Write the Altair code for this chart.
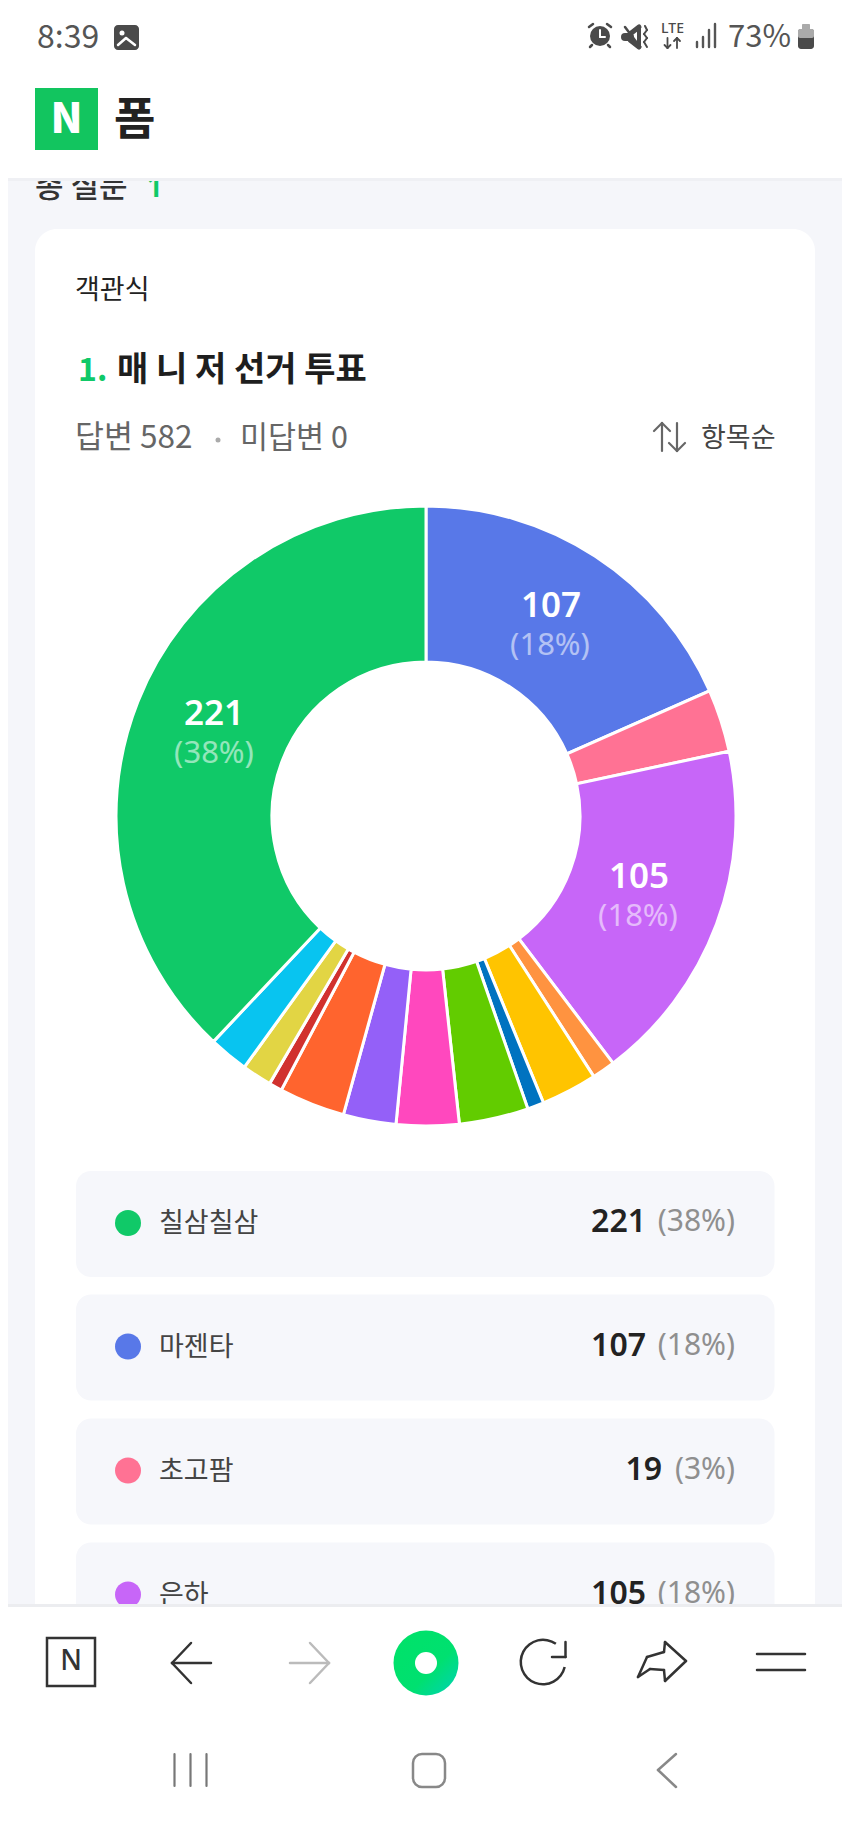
import altair as alt
import pandas as pd

# ---- chart values ----
choices = ["마젠타", "초고팜", "은하", "항목5", "항목6", "항목7", "항목8", "항목9", "항목10", "항목11", "항목12", "항목13", "항목14", "칠삼칠삼"]
votes = [107, 19, 105, 7, 17, 5, 21, 19, 16, 20, 4, 9, 12, 221]
slice_colors = ["#5878E8", "#FF7294", "#C766F8", "#FF9340", "#FFC400", "#0073C0", "#62CC00",
                "#FF48BE", "#9460F8", "#FF642E", "#D1312E", "#E2D544", "#08C4F0", "#10C968"]
order_index = list(range(len(votes)))
legend_names = ["칠삼칠삼", "마젠타", "초고팜", "은하"]
legend_votes = [221, 107, 19, 105]
legend_pcts = ["(38%)", "(18%)", "(3%)", "(18%)"]
legend_colors = ["#10C968", "#5878E8", "#FF7294", "#C766F8"]

FONT = "Noto Sans CJK KR"
LATIN = "Noto Sans"
OX, OY = 8, 8  # page margin
layers = []


def text(x, y, s, size, color="#222222", weight=400, align="left", font=FONT, opacity=1.0):
    layers.append(
        alt.Chart(pd.DataFrame({"t": [s]}))
        .mark_text(font=font, fontSize=size, color=color, fontWeight=weight, align=align,
                   baseline="middle", opacity=opacity)
        .encode(x=alt.value(x - OX), y=alt.value(y - OY), text="t:N")
    )


def rect(x1, y1, x2, y2, color, radius=0, stroke=None, sw=0):
    kw = dict(cornerRadius=radius, color=color) if stroke is None else dict(
        cornerRadius=radius, fill="transparent", stroke=stroke, strokeWidth=sw)
    layers.append(
        alt.Chart().mark_rect(**kw).encode(
            x=alt.value(x1 - OX), x2=alt.value(x2 - OX),
            y=alt.value(y1 - OY), y2=alt.value(y2 - OY))
    )


def seg(x1, y1, x2, y2, color="#333333", w=2.5):
    layers.append(
        alt.Chart().mark_rule(color=color, strokeWidth=w, strokeCap="round").encode(
            x=alt.value(x1 - OX), x2=alt.value(x2 - OX),
            y=alt.value(y1 - OY), y2=alt.value(y2 - OY))
    )


def dot(x, y, d, color):
    layers.append(
        alt.Chart().mark_point(shape="circle", size=d * d, opacity=1, filled=True, color=color).encode(
            x=alt.value(x - OX), y=alt.value(y - OY))
    )


# ---- page background and card ----
rect(0, 0, 850, 1823, "#F5F6FA")
rect(35, 229, 815, 1700, "#FFFFFF", radius=22)

# section heading, cut by the header
text(35, 188, "총 질문", 31, "#333333", 500)
text(146, 188, "1", 31, "#10C968", 600, "left", LATIN)

# header
rect(0, 0, 850, 178, "#FFFFFF")
rect(0, 178, 850, 181, "#EFF0F4")

# status bar
text(37, 38, "8:39", 32, "#555555")
rect(114, 25, 139, 50, "#4A4A4A", radius=4)
dot(122, 33, 5, "#FFFFFF")
seg(118, 45, 126, 38, "#FFFFFF", 2.5)
seg(126, 38, 135, 45, "#FFFFFF", 2.5)
# alarm
dot(600, 36, 20, "#4A4A4A")
seg(600, 30, 600, 37, "#FFFFFF", 2)
seg(600, 37, 605, 37, "#FFFFFF", 2)
seg(589, 27, 593, 24, "#4A4A4A", 2.5)
seg(607, 24, 611, 27, "#4A4A4A", 2.5)
seg(592, 45, 590, 47, "#4A4A4A", 2.5)
seg(608, 45, 610, 47, "#4A4A4A", 2.5)
# muted speaker
seg(625, 37, 630, 37, "#4A4A4A", 8)
seg(630, 34, 639, 27, "#4A4A4A", 5)
seg(630, 40, 639, 47, "#4A4A4A", 5)
seg(639, 29, 639, 45, "#4A4A4A", 4)
seg(625, 27, 640, 47, "#4A4A4A", 2.5)
seg(645, 26, 647, 30, "#4A4A4A", 2)
seg(647, 30, 644, 34, "#4A4A4A", 2)
seg(644, 34, 647, 38, "#4A4A4A", 2)
seg(647, 38, 644, 42, "#4A4A4A", 2)
seg(644, 42, 647, 47, "#4A4A4A", 2)
# network
text(672.5, 29, "LTE", 14, "#4A4A4A", 500, "center", LATIN)
seg(667.5, 38, 667.5, 48, "#4A4A4A", 1.8)
seg(664.5, 45, 667.5, 48, "#4A4A4A", 1.8)
seg(670.5, 45, 667.5, 48, "#4A4A4A", 1.8)
seg(677, 38, 677, 48, "#4A4A4A", 1.8)
seg(674, 41, 677, 38, "#4A4A4A", 1.8)
seg(680, 41, 677, 38, "#4A4A4A", 1.8)
for bx, top in zip([697, 703, 709, 715], [42, 37, 30, 24]):
    seg(bx, top, bx, 47, "#555555", 2.4)
text(728, 38, "73%", 31, "#555555")
rect(798, 29, 814, 49, "#4A4A4A", radius=3)
rect(798, 29, 814, 38, "#AAAAAA", radius=2)
rect(802, 24, 810, 30, "#AAAAAA", radius=1)

# brand
rect(35, 88, 98, 150, "#12C55F")
text(66.5, 120, "N", 42, "#FFFFFF", 900, "center")
text(114, 121, "폼", 45, "#222222", 700)

# card heading
text(75, 291, "객관식", 27, "#222222")
text(78, 371, "1.", 32, "#10C968", 700)
text(117, 371, "매 니 저 선거 투표", 34, "#1E1E1E", 700)
text(75, 439, "답변 582", 31.5, "#666666")
dot(218, 440, 5, "#AAAAAA")
text(240, 439, "미답변 0", 30.5, "#666666")
seg(662, 423, 662, 451, "#666666", 2.2)
seg(654, 431, 662, 423, "#666666", 2.2)
seg(662, 423, 670, 431, "#666666", 2.2)
seg(677, 423, 677, 451, "#666666", 2.2)
seg(669, 443, 677, 451, "#666666", 2.2)
seg(677, 451, 685, 443, "#666666", 2.2)
text(701, 439, "항목순", 27, "#444444", 400)

# ---- donut ----
df = pd.DataFrame({"choice": choices, "votes": votes, "idx": order_index})
layers.append(
    alt.Chart(df)
    .mark_arc(outerRadius=310, innerRadius=154, stroke="#FFFFFF", strokeWidth=3)
    .encode(
        theta=alt.Theta("votes:Q", stack=True),
        order=alt.Order("idx:O"),
        color=alt.Color("choice:N", scale=alt.Scale(domain=choices, range=slice_colors), legend=None),
        x=alt.value(426 - OX),
        y=alt.value(816 - OY),
    )
)
text(551, 606, str(votes[0]), 35, "#FFFFFF", 600, "center", LATIN)
text(550, 646, legend_pcts[1], 31, "#FFFFFF", 400, "center", LATIN, 0.55)
text(214, 714, str(votes[-1]), 35, "#FFFFFF", 600, "center", LATIN)
text(214, 754, legend_pcts[0], 31, "#FFFFFF", 400, "center", LATIN, 0.55)
text(639, 877, str(votes[2]), 35, "#FFFFFF", 600, "center", LATIN)
text(638, 917, legend_pcts[3], 31, "#FFFFFF", 400, "center", LATIN, 0.55)

# ---- legend rows ----
row_tops = [1171, 1294.5, 1418.5, 1542.5]
for top, name, v, pct, col in zip(row_tops, legend_names, legend_votes, legend_pcts, legend_colors):
    rect(76, top, 774.5, top + 106, "#F6F7FB", radius=15)
    cy = top + 52
    dot(128, cy, 26, col)
    text(159, cy + 1, name, 27, "#444444")
    text(735, cy - 1, pct, 30, "#8F8F8F", 400, "right", LATIN)
    pct_w = {"(38%)": 78, "(18%)": 78, "(3%)": 62}[pct]
    text(735 - pct_w - 11, cy - 1, str(v), 32, "#222222", 600, "right", LATIN)

# ---- browser bar ----
rect(0, 1607, 850, 1823, "#FFFFFF")
rect(0, 1604, 850, 1607, "#ECEDF0")
rect(47, 1638, 95, 1686, "transparent", stroke="#333333", sw=2.5)
text(71, 1662, "N", 28, "#333333", 500, "center", LATIN)
seg(172, 1663, 211, 1663)
seg(172, 1663, 191, 1643)
seg(172, 1663, 191, 1683)
seg(290, 1663, 329, 1663, "#BBBBBB")
seg(329, 1663, 310, 1643, "#BBBBBB")
seg(329, 1663, 310, 1683, "#BBBBBB")
layers.append(
    alt.Chart().mark_point(
        shape="circle", filled=True, size=65 * 65, opacity=1, strokeWidth=0,
        fill=alt.Gradient(gradient="linear", x1=0, y1=0, x2=1, y2=1,
                          stops=[alt.GradientStop(offset=0, color="#00E268"),
                                 alt.GradientStop(offset=0.6, color="#00E070"),
                                 alt.GradientStop(offset=1, color="#00D2B8")]),
    ).encode(x=alt.value(426 - OX), y=alt.value(1663 - OY))
)
dot(426, 1663, 22, "#FFFFFF")
layers.append(
    alt.Chart().mark_arc(innerRadius=21, outerRadius=23.5, color="#333333", theta=1.8, theta2=6.9).encode(
        x=alt.value(543 - OX), y=alt.value(1662 - OY))
)
seg(565.5, 1642, 565.5, 1657)
seg(565.5, 1657, 552, 1657)
seg(665, 1642, 686, 1661)
seg(686, 1661, 665, 1681)
seg(665, 1642, 664, 1652)
seg(665, 1681, 664, 1670)
seg(664, 1652, 647, 1657)
seg(647, 1657, 638, 1677)
seg(664, 1670, 650, 1669)
seg(650, 1669, 638, 1677)
seg(757, 1654, 805, 1654)
seg(757, 1670, 805, 1670)

# system navigation
for sx in [174.5, 190.5, 206.5]:
    seg(sx, 1754, sx, 1786, "#777777", 2.2)
rect(413, 1754, 445, 1787, "transparent", radius=9, stroke="#888888", sw=2.5)
seg(658, 1770, 676, 1754, "#888888", 2.5)
seg(658, 1770, 676, 1787, "#888888", 2.5)

chart = (
    alt.layer(*layers)
    .properties(width=834, height=1800, padding=0, autosize=alt.AutoSizeParams(type="none"), background="#FFFFFF")
    .configure_view(stroke=None)
)
chart.save("out.html", embed_options={"renderer": "svg", "actions": False})
